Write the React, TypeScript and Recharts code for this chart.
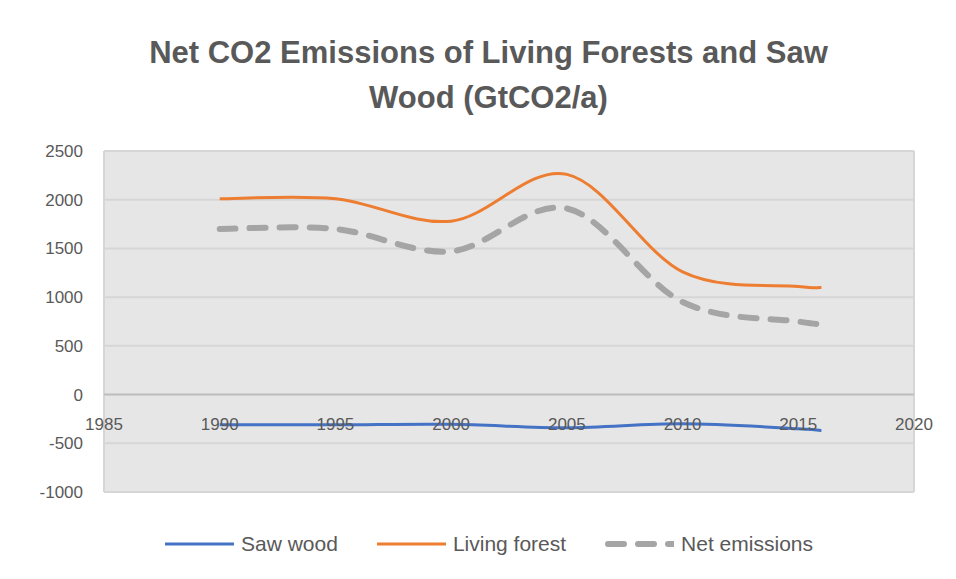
import React from 'react';
import { LineChart, Line, XAxis, YAxis, CartesianGrid, ReferenceLine, ReferenceDot, Legend } from 'recharts';

const years = [1990, 1995, 2000, 2005, 2010, 2015, 2016];
const sawWood = [-310, -310, -305, -340, -300, -350, -370];
const livingForest = [2010, 2010, 1780, 2260, 1260, 1110, 1100];
const netEmissions = [1700, 1700, 1470, 1910, 950, 750, 725];

const xTicks = [1985, 1990, 1995, 2000, 2005, 2010, 2015, 2020];
const yTicks = [-1000, -500, 0, 500, 1000, 1500, 2000, 2500];

const titleLines = ['Net CO2 Emissions of Living Forests and Saw', 'Wood (GtCO2/a)'];

const series = [
  { key: 'saw', name: 'Saw wood', color: '#4472c4', width: 3, dashed: false },
  { key: 'living', name: 'Living forest', color: '#ed7d31', width: 3, dashed: false },
  { key: 'net', name: 'Net emissions', color: '#a5a5a5', width: 6, dashed: true },
];

const data = years.map((year, i) => ({
  year,
  saw: sawWood[i],
  living: livingForest[i],
  net: netEmissions[i],
}));

const FONT = '"Liberation Sans", Arial, sans-serif';
const TEXT = '#595959';

// Excel-style smoothed line (Catmull-Rom as cubic beziers)
const excelSmooth = (context: any) => {
  let pts: number[][] = [];
  return {
    areaStart() {},
    areaEnd() {},
    lineStart() {
      pts = [];
    },
    point(x: number, y: number) {
      pts.push([+x, +y]);
    },
    lineEnd() {
      if (!pts.length) return;
      context.moveTo(pts[0][0], pts[0][1]);
      for (let i = 0; i < pts.length - 1; i++) {
        const p0 = pts[i - 1] || pts[i];
        const p1 = pts[i];
        const p2 = pts[i + 1];
        const p3 = pts[i + 2] || p2;
        context.bezierCurveTo(
          p1[0] + (p2[0] - p0[0]) / 6,
          p1[1] + (p2[1] - p0[1]) / 6,
          p2[0] - (p3[0] - p1[0]) / 6,
          p2[1] - (p3[1] - p1[1]) / 6,
          p2[0],
          p2[1]
        );
      }
    },
  };
};

const LegendContent = () => (
  <div
    style={{
      display: 'flex',
      justifyContent: 'center',
      alignItems: 'center',
      height: 30,
      paddingLeft: 14,
      gap: 39,
    }}
  >
    {series.map(s => (
      <div key={s.key} style={{ display: 'flex', alignItems: 'center', gap: 7 }}>
        <svg width={69} height={10}>
          <line
            x1={s.dashed ? 3 : 0}
            x2={s.dashed ? 80 : 69}
            y1={5}
            y2={5}
            stroke={s.color}
            strokeWidth={s.width}
            strokeDasharray={s.dashed ? '16 14' : undefined}
            strokeLinecap={s.dashed ? 'round' : 'butt'}
          />
        </svg>
        <span style={{ fontFamily: FONT, fontSize: 21, color: TEXT }}>{s.name}</span>
      </div>
    ))}
  </div>
);

const App: React.FC = () => {
  return (
    <div
      style={{
        position: 'relative',
        width: 948,
        height: 572,
        marginLeft: -2,
        marginTop: -3,
        borderTop: '2px solid #d9d9d9',
        borderLeft: '2px solid #d9d9d9',
        background: '#fff',
      }}
    >
      <LineChart width={948} height={572} data={data} margin={{ top: 144, right: 42, left: 0, bottom: 57 }}>
        <CartesianGrid stroke="#d6d6d6" strokeWidth={2} fill="#e6e6e6" />
        <XAxis
          type="number"
          dataKey="year"
          domain={[1985, 2020]}
          ticks={xTicks}
          tick={false}
          axisLine={false}
          tickLine={false}
          height={0}
        />
        <YAxis
          type="number"
          domain={[-1000, 2500]}
          ticks={yTicks}
          width={96}
          axisLine={false}
          tickLine={false}
          tickSize={0}
          tickMargin={21}
          tick={{ fill: TEXT, fontSize: 17, fontFamily: FONT }}
        />
        <ReferenceLine y={0} stroke="#bfbfbf" strokeWidth={2} />
        {series.map(s => (
          <Line
            key={s.key}
            dataKey={s.key}
            name={s.name}
            type={excelSmooth as any}
            stroke={s.color}
            strokeWidth={s.width}
            strokeDasharray={s.dashed ? '16 14' : undefined}
            strokeLinecap={s.dashed ? 'round' : 'butt'}
            dot={false}
            activeDot={false}
            isAnimationActive={false}
          />
        ))}
        {xTicks.map(t => (
          <ReferenceDot
            key={t}
            x={t}
            y={0}
            r={0}
            fill="none"
            stroke="none"
            label={{ value: String(t), position: 'bottom', offset: 23, fill: TEXT, fontSize: 17, fontFamily: FONT }}
          />
        ))}
        <Legend
          content={() => <LegendContent />}
          wrapperStyle={{ left: 0, width: 948, bottom: 20, height: 30 }}
        />
      </LineChart>
      <div
        style={{
          position: 'absolute',
          top: 23,
          left: 0,
          width: 961,
          textAlign: 'center',
          fontFamily: FONT,
          fontWeight: 'bold',
          fontSize: 31,
          lineHeight: '45px',
          color: TEXT,
          pointerEvents: 'none',
        }}
      >
        {titleLines[0]}
        <br />
        {titleLines[1]}
      </div>
    </div>
  );
};

export default App;
